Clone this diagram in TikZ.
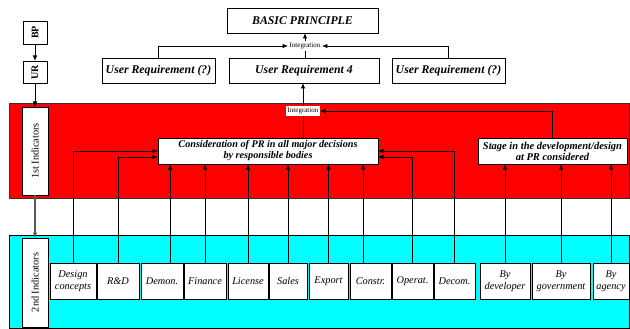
\documentclass[tikz,border=0pt]{standalone}
\usepackage{fontspec}
\usepackage{graphicx}
\setmainfont{Liberation Serif}
\usetikzlibrary{arrows.meta,calc,shadows}
\definecolor{bandred}{RGB}{255,0,0}
\definecolor{bandcyan}{RGB}{0,255,255}

\begin{document}
\begin{tikzpicture}[x=1pt,y=-1pt,
  every node/.style={inner sep=0pt, outer sep=0pt},
  box/.style={draw=black, line width=0.8pt, fill=white, align=center,
    drop shadow={shadow xshift=0.9pt, shadow yshift=-0.9pt, fill=black!55, opacity=1}},
  bi/.style={font=\fontsize{10.2}{11}\selectfont\bfseries\itshape},
  ureq/.style={font=\fontsize{11.8}{13}\selectfont\bfseries\itshape},
  big/.style={font=\fontsize{11.8}{13}\selectfont\bfseries\itshape},
  it/.style={font=\fontsize{10.3}{12}\selectfont\itshape},
  side/.style={font=\fontsize{10.3}{12}\selectfont},
  sideb/.style={font=\fontsize{10}{12}\selectfont\bfseries},
  tag/.style={font=\fontsize{7}{8}\selectfont, inner sep=1.5pt},
  arr/.style={-{Latex[length=5.5pt,width=4.5pt]}, line width=0.9pt},
  ln/.style={line width=0.9pt},
  low/.style={box, it, minimum height=36pt},
]
\useasboundingbox (0,0) rectangle (630,329);

% coloured bands
\filldraw[fill=bandred, draw=black!80, line width=0.8pt] (9,103) rectangle (629,198);
\filldraw[fill=bandcyan, draw=black, line width=0.8pt] (9,235) rectangle (629,328);

% left-hand level column
\node[box, sideb, minimum width=24pt, minimum height=23pt] (bp) at (35,32.5) {\rotatebox{90}{BP}};
\node[box, sideb, minimum width=24pt, minimum height=22pt] (ur) at (35,72) {\rotatebox{90}{UR}};
\node[box, side, minimum width=26pt, minimum height=88pt] (ind1) at (35,151) {\rotatebox{90}{1st Indicators}};
\node[box, side, minimum width=26pt, minimum height=89pt] (ind2) at (35,282.5) {\rotatebox{90}{2nd Indicators}};

% top levels
\node[box, big, minimum width=151pt, minimum height=25pt] (basic) at (302.5,20.5) {BASIC PRINCIPLE};
\node[tag] (intTop) at (305,46) {Integration};
\node[box, ureq, minimum width=113pt, minimum height=25pt] (urL) at (158.5,70.5) {User Requirement (?)};
\node[box, ureq, minimum width=150pt, minimum height=25pt] (ur4) at (304,70.5) {User Requirement 4};
\node[box, ureq, minimum width=113pt, minimum height=25pt] (urR) at (448.5,70.5) {User Requirement (?)};

% first indicators
\node[tag, fill=white] (intMid) at (303,111) {Integration};
\node[box, bi, minimum width=220pt, minimum height=26pt] (cons) at (268,151)
  {Consideration of PR in all major decisions\\by responsible bodies};
\node[box, bi, font=\fontsize{10.5}{11}\selectfont\bfseries\itshape, minimum width=149pt, minimum height=26pt] (stage) at (552.5,151)
  {Stage in the development/design\\at PR considered};

% second indicators
\node[low, minimum width=46pt] (dc)  at (73,281)    {Design\\concepts};
\node[low, minimum width=42pt] (rd)  at (118,281)   {R\&D};
\node[low, minimum width=42pt] (dem) at (162,281)   {Demon.};
\node[low, minimum width=42pt] (fin) at (205,281)   {Finance};
\node[low, minimum width=40pt] (lic) at (248,281)   {License};
\node[low, minimum width=38pt] (sal) at (288,281)   {Sales};
\node[low, minimum width=39pt] (exp) at (328.5,281) {Export};
\node[low, minimum width=41pt] (con) at (370.5,281) {Constr.};
\node[low, minimum width=41pt] (ope) at (412.5,281) {Operat.};
\node[low, minimum width=41pt] (dec) at (454.5,281) {Decom.};
\node[low, minimum width=50pt] (dev) at (505,281)   {By\\developer};
\node[low, minimum width=58pt] (gov) at (561,281)   {By\\government};
\node[low, minimum width=36pt] (age) at (611,281)   {By\\agency};

\coordinate (demTop) at ($(dem.north)+(8,0)$);
\coordinate (conTop) at ($(con.north)+(-7.5,0)$);

% level column arrows
\draw[arr] (bp) -- (ur);
\draw[arr] (ur) -- (ind1);
\draw[arr, line width=1.1pt, draw=black!65] (ind1.south) -- (ind2.north);

% integration at the top
\draw[arr] (intTop.north) -- (intTop.north |- basic.south);
\draw[ln] (intTop.south) -- (intTop.south |- ur4.north);
\draw[arr] (urL.north) |- (intTop.west);
\draw[arr] (urR.north) |- (intTop.east);

% integration of first indicators
\draw[arr] (intMid.north) -- (intMid.north |- ur4.south);
\draw[ln] (intMid.south) -- (intMid.south |- cons.north);
\draw[arr] (stage.north) |- (intMid.east);

% second indicators into first indicators
\draw[arr] (dc.north) |- (cons.west);
\draw[arr] (rd.north) |- ($(cons.west)+(0,6)$);
\draw[arr] (demTop) -- (demTop |- cons.south);
\draw[arr] (fin.north) -- (fin.north |- cons.south);
\draw[arr] (lic.north) -- (lic.north |- cons.south);
\draw[arr] (sal.north) -- (sal.north |- cons.south);
\draw[arr] (exp.north) -- (exp.north |- cons.south);
\draw[arr] (conTop) -- (conTop |- cons.south);
\draw[arr] (ope.north) |- ($(cons.east)+(0,6)$);
\draw[arr] (dec.north) |- (cons.east);
\draw[arr] (dev.north) -- (dev.north |- stage.south);
\draw[arr] (gov.north) -- (gov.north |- stage.south);
\draw[arr] (age.north) -- (age.north |- stage.south);
\end{tikzpicture}
\end{document}
